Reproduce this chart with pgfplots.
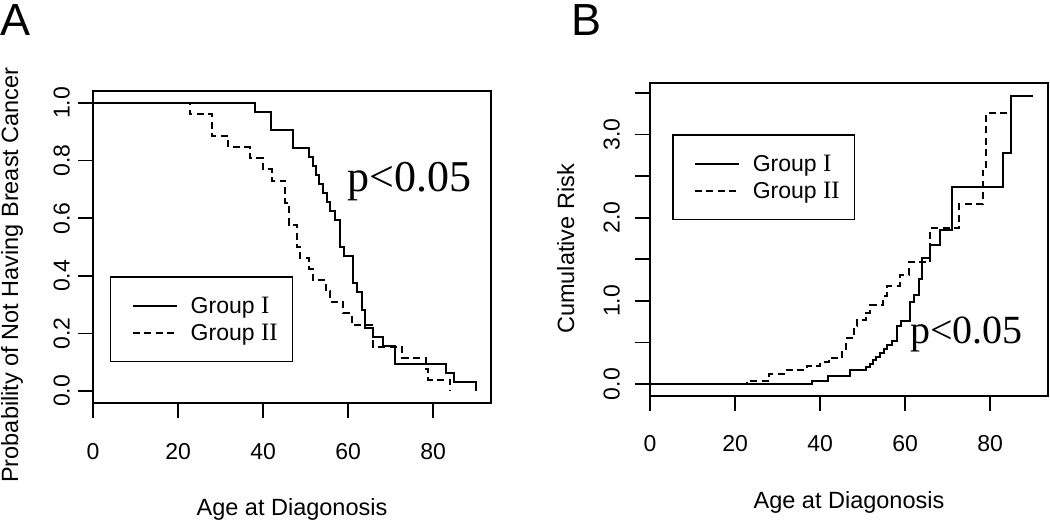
\documentclass[border=0pt]{standalone}
\usepackage{fontspec}
\setmainfont{Liberation Sans}
\newfontfamily\tnr{Liberation Serif}
\usepackage{pgfplots}
\pgfplotsset{compat=1.18}
\newcommand{\rn}[1]{{\tnr\fontsize{25bp}{27bp}\selectfont #1}}
\pgfplotsset{
  rplot/.style={
    scale only axis,
    axis line style={line width=1.6bp},
    every tick/.style={line width=1.6bp, black},
    tick align=outside,
    major tick length=15bp,
    xtick pos=left, ytick pos=left,
    xmin=0, xmax=93.6,
    xtick={0,20,40,60,80},
    xticklabels={0,20,40,60,80},
    tick label style={font=\fontsize{23bp}{27bp}\selectfont},
    yticklabel style={rotate=90, anchor=south, inner sep=0pt},
    xticklabel style={anchor=north, inner sep=0pt},
    /pgf/number format/assume math mode=true,
    legend image code/.code={\path (0bp,0bp); \draw[##1] (6bp,0bp) -- (50bp,0bp);},
    legend cell align=left,
    legend style={anchor=north west, draw=black, line width=1.5bp,
      inner xsep=15bp, inner ysep=20bp, row sep=9bp,
      nodes={inner sep=0pt},
      /tikz/every odd column/.append style={column sep=13bp},
      font=\fontsize{23bp}{27bp}\selectfont},
  },
  solidc/.style={const plot, black, line width=2bp},
  dashc/.style={const plot, black, line width=2bp, dash pattern=on 7bp off 4.5bp},
}
\begin{document}
\begin{tikzpicture}
\path[use as bounding box] (0bp,0bp) rectangle (1050bp,-521bp);
% Panel A
\begin{axis}[rplot, at={(93bp,-403bp)}, anchor=south west,
  width=398bp, height=312bp,
  ymin=-0.0417, ymax=1.0417,
  ytick={0,0.2,0.4,0.6,0.8,1.0},
  yticklabels={0.0,0.2,0.4,0.6,0.8,1.0},
  xticklabel shift=25bp, yticklabel shift=8bp,
  legend style={at={(rel axis cs:0.0427,0.407)}},
]
\addplot[solidc] coordinates {
(0,1) (38.0,0.96875) (41.8,0.90625) (47.1,0.84375) (50.9,0.8125) (51.8,0.78125)
(52.5,0.75) (53.2,0.71875) (54.0,0.6875) (55.0,0.65625) (55.8,0.625) (57.0,0.59375)
(58.0,0.5) (59.1,0.46875) (61.1,0.375) (62.0,0.34375) (63.2,0.28125) (64.0,0.21875)
(65.8,0.1875) (68.2,0.15625) (71.1,0.09375) (83.1,0.0625) (85.0,0.03125) (90.0,0)
};
\addlegendentry{Group \rn{I}}
\addplot[dashc] coordinates {
(0,1) (22.8,0.96154) (28.1,0.88462) (31.8,0.84615) (36.9,0.80769) (40.0,0.76923)
(42.0,0.73077) (45.2,0.65385) (46.0,0.57692) (47.9,0.5) (48.7,0.46154) (50.9,0.42308)
(51.8,0.38462) (54.8,0.34615) (55.8,0.30769) (58.9,0.26923) (60.9,0.23077)
(65.9,0.15385) (72.7,0.11538) (78.3,0.07692) (78.9,0.03846) (84.0,0)
};
\addlegendentry{Group \rn{II}}
\node[anchor=base west, inner sep=0pt, font=\tnr\fontsize{44bp}{50bp}\selectfont] at (axis cs:59.8,0.694) {p<0.05};
\end{axis}
% Panel B
\begin{axis}[rplot, at={(650bp,-396bp)}, anchor=south west,
  width=398bp, height=313bp,
  ymin=-0.144, ymax=3.62,
  ytick={0,0.5,1.0,1.5,2.0,2.5,3.0,3.5},
  yticklabels={0.0,,1.0,,2.0,,3.0,},
  xticklabel shift=24bp, yticklabel shift=15bp,
  legend style={at={(rel axis cs:0.0553,0.837)}},
]
\addplot[solidc] coordinates {
(0,0) (38.0,0.03175) (41.8,0.09844) (47.1,0.16990) (50.9,0.20764) (51.8,0.24686)
(52.5,0.28768) (53.2,0.33024) (54.0,0.37469) (55.0,0.42121) (55.8,0.47000)
(57.0,0.52130) (58.0,0.69315) (59.1,0.75769) (61.1,0.98083) (62.0,1.06784)
(63.2,1.26851) (64.0,1.51983) (65.8,1.67398) (68.2,1.85630) (71.1,2.36712)
(83.1,2.77259) (85.0,3.46574) (90.0,3.46574)
};
\addlegendentry{Group \rn{I}}
\addplot[dashc] coordinates {
(0,0) (22.8,0.03922) (28.1,0.12260) (31.8,0.16705) (36.9,0.21357) (40.0,0.26236)
(42.0,0.31366) (45.2,0.42488) (46.0,0.55005) (47.9,0.69315) (48.7,0.77319)
(50.9,0.86020) (51.8,0.95551) (54.8,1.06087) (55.8,1.17865) (58.9,1.31218)
(60.9,1.46634) (65.9,1.87180) (72.7,2.15948) (78.3,2.56495) (78.9,3.25810)
(84.0,3.25810)
};
\addlegendentry{Group \rn{II}}
\node[anchor=base west, inner sep=0pt, font=\tnr\fontsize{40bp}{46bp}\selectfont] at (axis cs:61.2,0.49) {p<0.05};
\end{axis}
% Panel letters and axis titles
\node[anchor=base west, inner sep=0pt, font=\fontsize{45bp}{50bp}\selectfont] at (0bp,-35bp) {A};
\node[anchor=base west, inner sep=0pt, font=\fontsize{45bp}{50bp}\selectfont] at (571bp,-35bp) {B};
\node[anchor=base, inner sep=0pt, font=\fontsize{23.5bp}{27bp}\selectfont] at (292bp,-515bp) {Age at Diagonosis};
\node[anchor=base, inner sep=0pt, font=\fontsize{23.5bp}{27bp}\selectfont] at (849bp,-508bp) {Age at Diagonosis};
\node[anchor=base, rotate=90, inner sep=0pt, font=\fontsize{23.5bp}{27bp}\selectfont] at (18bp,-275bp) {Probability of Not Having Breast Cancer};
\node[anchor=base, rotate=90, inner sep=0pt, font=\fontsize{23.5bp}{27bp}\selectfont] at (574bp,-249bp) {Cumulative Risk};
\end{tikzpicture}
\end{document}
